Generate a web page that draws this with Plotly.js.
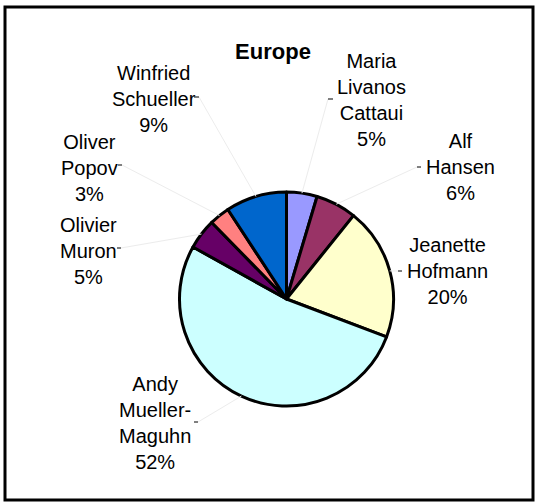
<!DOCTYPE html>
<html>
<head>
<meta charset="utf-8">
<script src="https://cdn.plot.ly/plotly-3.0.1.min.js"></script>
<style>html,body{margin:0;padding:0;background:#fff;}#chart{width:539px;height:504px;}</style>
</head>
<body>
<div id="chart"></div>
<script>
// ---- data ----
const names = ["Maria Livanos Cattaui", "Alf Hansen", "Jeanette Hofmann", "Andy Mueller-Maguhn", "Olivier Muron", "Oliver Popov", "Winfried Schueller"];
const labelText = ["Maria<br>Livanos<br>Cattaui", "Alf<br>Hansen", "Jeanette<br>Hofmann", "Andy<br>Mueller-<br>Maguhn", "Olivier<br>Muron", "Oliver<br>Popov", "Winfried<br>Schueller"];
const values = [3, 4, 13, 34, 3, 2, 6];
const colors = ["#9999FF", "#993366", "#FFFFCC", "#CCFFFF", "#660066", "#FF8080", "#0066CC"];

// ---- layout (pixel placement of text labels and their tick marks) ----
const W = 539, H = 504;
const labelCenter = [[371, 100], [460, 167], [447, 271], [155, 423], [88, 251], [89, 168], [154, 99]];
const tickSpan = [[328, 333, 99], [417, 421, 167], [398, 402, 271], [194, 198, 422], [117, 121, 248], [118, 122, 165], [194, 199, 97]];
const pieCx = 286.5, pieCy = 299, pieR = 107;

const px = x => x / W;
const py = y => 1 - y / H;

const total = values.reduce((a, b) => a + b, 0);
const shapes = [];
const annotations = [];

// frame
shapes.push({type: 'rect', xref: 'paper', yref: 'paper', x0: px(5), x1: px(533), y0: py(7), y1: py(500), line: {color: '#000', width: 3}});

let cum = 0;
values.forEach((v, i) => {
  const mid = (cum + v / 2) / total * 2 * Math.PI;
  cum += v;
  const ex = pieCx + pieR * Math.sin(mid);
  const ey = pieCy - pieR * Math.cos(mid);
  const t = tickSpan[i];
  const startX = (t[0] < labelCenter[i][0]) ? t[0] : t[1];
  // leader line
  shapes.push({type: 'line', xref: 'paper', yref: 'paper', x0: px(startX), y0: py(t[2]), x1: px(ex), y1: py(ey), line: {color: '#ececec', width: 1}});
  // tick
  shapes.push({type: 'line', xref: 'paper', yref: 'paper', x0: px(t[0]), y0: py(t[2]), x1: px(t[1]), y1: py(t[2]), line: {color: '#000', width: 1}});
  annotations.push({
    xref: 'paper', yref: 'paper', x: px(labelCenter[i][0]), y: py(labelCenter[i][1]),
    xanchor: 'center', yanchor: 'middle', align: 'center', showarrow: false,
    text: labelText[i] + '<br>' + Math.round(v / total * 100) + '%',
    font: {family: 'Liberation Sans, Arial, sans-serif', size: 20, color: '#000'}
  });
});

const trace = {
  type: 'pie',
  labels: names,
  values: values,
  sort: false,
  direction: 'clockwise',
  rotation: 0,
  textinfo: 'none',
  hoverinfo: 'label+percent',
  marker: {colors: colors, line: {color: '#000', width: 3}},
  domain: {x: [px(pieCx - pieR), px(pieCx + pieR)], y: [py(pieCy + pieR), py(pieCy - pieR)]},
  showlegend: false
};

const layout = {
  width: W, height: H,
  margin: {l: 0, r: 0, t: 0, b: 0},
  paper_bgcolor: '#fff',
  title: {text: '<b>Europe</b>', x: px(273), y: py(51), xref: 'paper', yref: 'paper', xanchor: 'center', yanchor: 'middle',
    font: {family: 'Liberation Sans, Arial, sans-serif', size: 22, color: '#000'}},
  shapes: shapes,
  annotations: annotations
};

Plotly.newPlot('chart', [trace], layout, {displayModeBar: false, staticPlot: true});
</script>
</body>
</html>
